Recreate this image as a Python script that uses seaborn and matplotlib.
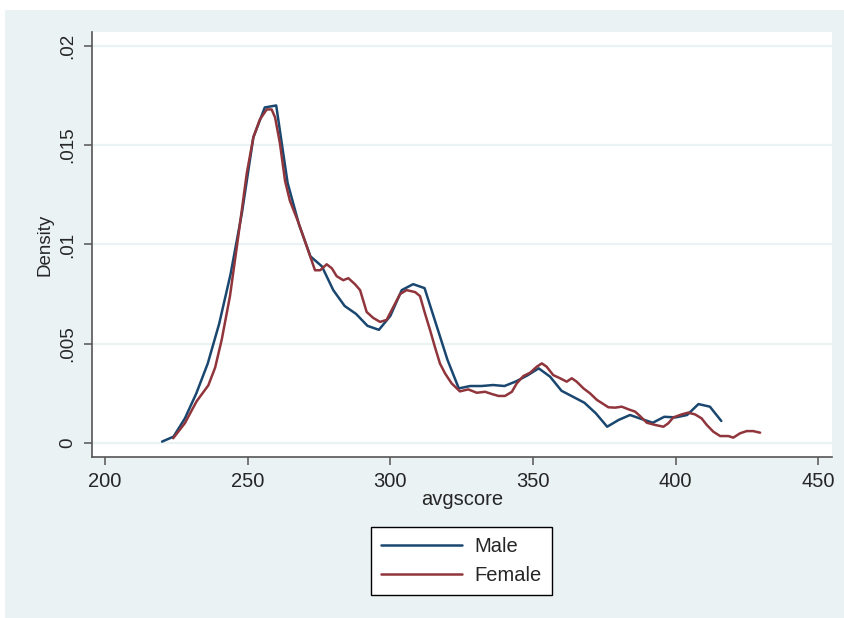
import pandas as pd
import seaborn as sns
import matplotlib.pyplot as plt
import matplotlib
from matplotlib.patches import Rectangle

# kernel density values
male_x = [220, 224, 228, 232, 236, 240, 244, 248, 252, 256,
          260, 264, 268, 272, 276, 280, 284, 288, 292, 296,
          300, 304, 308, 312, 316, 320, 324, 328, 332, 336,
          340, 344, 348, 352, 356, 360, 364, 368, 372, 376,
          380, 384, 388, 392, 396, 400, 404, 408, 412, 416]
male_y = [0.00007, 0.00032, 0.00124, 0.0025, 0.0040, 0.0060, 0.0085, 0.0116, 0.0154, 0.0169,
          0.0170, 0.0131, 0.0110, 0.0094, 0.0089, 0.0077, 0.0069, 0.0065, 0.0059, 0.0057,
          0.0064, 0.0077, 0.0080, 0.0078, 0.0060, 0.0042, 0.00275, 0.00287, 0.00287, 0.00292,
          0.00287, 0.0031, 0.0034, 0.00376, 0.00334, 0.00263, 0.00233, 0.00203, 0.0015, 0.00082,
          0.00116, 0.00141, 0.00121, 0.00102, 0.00132, 0.00129, 0.00141, 0.00196, 0.00183, 0.00111]

female_x = [223.9, 228.0, 232.1, 236.2, 238.6, 240.9, 243.8, 246.7, 249.7, 252.0,
            254.3, 256.7, 258.4, 259.6, 261.3, 263.1, 264.8, 267.8, 270.7, 273.6,
            275.4, 277.7, 279.5, 281.2, 283.5, 285.3, 287.6, 289.4, 291.7, 294.0,
            296.4, 298.7, 300.5, 303.4, 305.7, 308.7, 310.4, 312.2, 313.9, 315.7,
            317.4, 319.2, 321.5, 324.4, 327.3, 330.3, 333.2, 335.5, 337.9, 340.2,
            342.6, 344.3, 346.6, 349.0, 351.3, 353.1, 354.8, 357.1, 359.5, 361.8,
            363.6, 365.3, 367.7, 370.0, 372.4, 374.7, 376.4, 378.8, 381.1, 383.4,
            385.8, 387.5, 389.9, 392.8, 395.7, 397.4, 399.2, 402.1, 404.4, 406.8,
            409.1, 410.9, 413.2, 415.6, 418.5, 420.2, 422.6, 424.9, 427.2, 429.6]
female_y = [0.00024, 0.0010, 0.0021, 0.0029, 0.0038, 0.0052, 0.0074, 0.0104, 0.0136, 0.0154,
            0.0163, 0.0168, 0.0168, 0.0164, 0.0151, 0.0132, 0.0122, 0.0111, 0.0099, 0.0087,
            0.0087, 0.0090, 0.0088, 0.0084, 0.0082, 0.0083, 0.0080, 0.0077, 0.0066, 0.0063,
            0.0061, 0.0062, 0.0067, 0.0075, 0.0077, 0.0076, 0.0074, 0.0065, 0.0057, 0.0048,
            0.0040, 0.0035, 0.0030, 0.0026, 0.0027, 0.00253, 0.00258, 0.00247, 0.00237, 0.00237,
            0.00258, 0.0030, 0.00337, 0.00354, 0.00384, 0.00401, 0.00384, 0.00342, 0.00326, 0.00309,
            0.00326, 0.00309, 0.00275, 0.0025, 0.00217, 0.00196, 0.0018, 0.00178, 0.00183, 0.0017,
            0.00158, 0.00136, 0.00102, 0.00091, 0.00082, 0.00099, 0.00129, 0.00144, 0.00153, 0.00144,
            0.00124, 0.00091, 0.00057, 0.00035, 0.00035, 0.00027, 0.00049, 0.0006, 0.0006, 0.00052]

yticks = [0, 0.005, 0.01, 0.015, 0.02]
ytick_labels = ['0', '.005', '.01', '.015', '.02']
xticks = [200, 250, 300, 350, 400, 450]

df = pd.concat([
    pd.DataFrame({'avgscore': male_x, 'Density': male_y, 'sex': 'Male'}),
    pd.DataFrame({'avgscore': female_x, 'Density': female_y, 'sex': 'Female'}),
], ignore_index=True)

sns.set_style('white')
plt.rcParams['font.family'] = ['Liberation Sans', 'DejaVu Sans']

W, H = 844, 618
fig = plt.figure(figsize=(W / 100, H / 100), dpi=100)
fig.patch.set_facecolor('white')
# stata-like graph region, kept behind the axes
bg = Rectangle((5 / W, 0), 1, 1 - 10 / H, transform=fig.transFigure,
               facecolor='#eaf2f3', edgecolor='none', zorder=-10)
fig.add_artist(bg)

ax = fig.add_axes([92 / W, 1 - 457 / H, (832 - 92) / W, (457 - 32) / H])
ax.set_zorder(1)
ax.set_facecolor('white')

sns.lineplot(data=df, x='avgscore', y='Density', hue='sex',
             palette={'Male': '#1a476f', 'Female': '#90353b'},
             linewidth=1.8, ax=ax)

ax.set_xlim(195.44, 454.8)
ax.set_ylim(-0.000705, 0.0207)
ax.set_xticks(xticks)
ax.set_xticklabels([str(t) for t in xticks])
ax.set_yticks(yticks)
ax.set_yticklabels(ytick_labels, rotation=90, va='center')

ax.grid(axis='y', color='#eaf2f3', linewidth=1.6)
ax.grid(axis='x', visible=False)
for s in ['top', 'right']:
    ax.spines[s].set_visible(False)
for s in ['left', 'bottom']:
    ax.spines[s].set_color('#555555')
    ax.spines[s].set_linewidth(1.2)
ax.tick_params(axis='both', direction='out', length=5.8, width=1.1, color='#555555',
               left=True, bottom=True)
ax.tick_params(axis='x', labelsize=14.5, pad=5)
ax.tick_params(axis='y', labelsize=13.5, pad=5.6)

ax.set_xlabel('avgscore', fontsize=14.5, labelpad=-1)
ax.set_ylabel('Density', fontsize=13.5, labelpad=4)

sns.move_legend(ax, loc='center', bbox_to_anchor=(461.5 / W, 1 - 561 / H),
                bbox_transform=fig.transFigure, title=None, fontsize=14.5,
                frameon=True, fancybox=False, edgecolor='black', facecolor='white',
                framealpha=1, handlelength=4.0, handletextpad=0.63, labelspacing=0.46,
                borderpad=0.5)
leg = ax.get_legend()
leg.get_frame().set_linewidth(1.0)
for line in leg.get_lines():
    line.set_linewidth(1.8)

fig.savefig('out.png', dpi=100, facecolor=fig.get_facecolor())
